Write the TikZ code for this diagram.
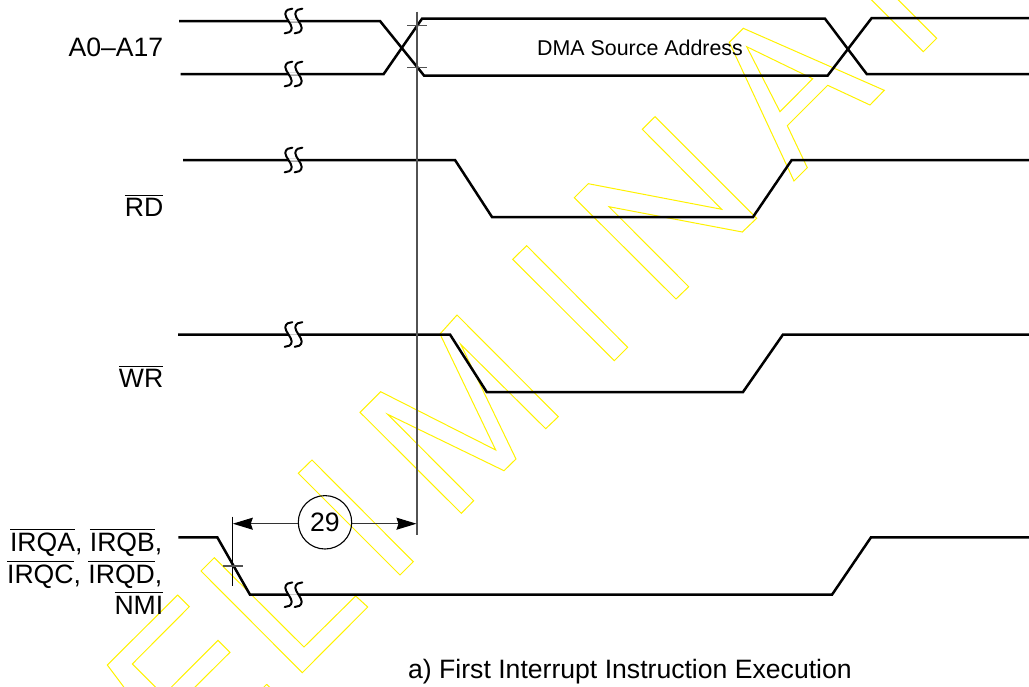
\documentclass[tikz,border=0pt]{standalone}
\usepackage{fontspec}
\setmainfont{Liberation Sans}
\usetikzlibrary{arrows.meta}
\newcommand\ovl[1]{\leavevmode\vbox{\hrule height 1.1pt \kern 2.6pt \hbox{#1}}}
\newcommand\bigtext{\fontsize{26.6}{32}\selectfont}
\tikzset{
  signal/.style={line width=2.5pt,line join=miter,black},
  wm/.style={draw=yellow,line width=1pt,line join=miter},
  guide/.style={line width=1.3pt,draw=black!68},
  fine/.style={line width=1pt,draw=black},
  dimarrow/.style={line width=1.1pt,draw=black!80,-{Stealth[length=20pt,width=12pt,inset=2pt,black]}},
  sig label/.style={anchor=base east,inner sep=0pt,font=\bigtext,align=right},
  brk/.pic={
    \draw[line width=2.6pt,draw=white] (-5,0) -- (5,0);
    \draw[line width=0.8pt,draw=black!20] (-5,0) -- (5,0);
    \foreach \c in {-5,5}{
      \draw[line width=2pt,line cap=round,black,shift={(\c,0)}]
        (3.8,-12.3) .. controls (0.8,-12.3) and (-3.2,-11) .. (-3.2,-7)
        .. controls (-3.2,-3) and (3.2,3) .. (3.2,7)
        .. controls (3.2,11) and (-0.8,12.3) .. (-3.8,12.3);
    }
  }
}
\begin{document}
\begin{tikzpicture}[x=1pt,y=-1pt]
\useasboundingbox (0,0) rectangle (1029,686);
\begin{scope}
\clip (0,0) rectangle (1029,686);
% E
\draw[wm] (107.3,665) -- (177.7,595) -- (189.3,606.7) -- (132.3,664) -- (163.5,695) -- (218,640.3) -- (230,652.3) -- (180,702) -- (200,722) -- (150,722) -- cycle;
\draw[wm] (266.7,684.3) -- (250,701) (266.7,684.3) -- (283,701);
% L
\draw[wm] (214.3,557.7) -- (201,571) -- (302.3,672.7) -- (367.7,607) -- (355.7,596) -- (304,647) -- cycle;
% I
\draw[wm] (312,460) -- (298.3,473.3) -- (400,575) -- (413.3,561.7) -- cycle;
% M
\draw[wm] (380.7,391.7) -- (495.7,450) -- (440,334) -- (457,315) -- (558.3,416.7) -- (545.7,428.7) -- (460.7,344.3) -- (516,459) -- (504,470.7) -- (387.7,414.3) -- (473.7,500.7) -- (461.3,513.3) -- (360,412.3) -- cycle;
% I
\draw[wm] (526.7,245.7) -- (512.7,259.3) -- (614.3,360.7) -- (627.7,347.3) -- cycle;
% N
\draw[wm] (655,116.7) -- (756.7,218.3) -- (742.3,232) -- (609,206.7) -- (688.7,286.7) -- (676,299) -- (574.3,197.7) -- (588.3,183.7) -- (721.7,209.3) -- (642.3,129.3) -- cycle;
% A
\draw[wm] (743.3,28.3) -- (729.3,42.3) -- (794,181) -- (807.3,167.7) -- (787.3,125.7) -- (827.7,85.3) -- (870,105) -- (884.3,90.3) -- cycle;
\draw[wm] (746.7,46.7) -- (812.7,78.7) -- (780,111.7) -- cycle;
% R (stem end)
\draw[wm] (851.7,-20) -- (923.3,51.7) -- (936.7,38.3) -- (878.3,-20);
\end{scope}
% signals
\draw[signal] (179,21) -- (380,21) -- (424,75.5) -- (827.7,75.5) -- (871.7,18) -- (1029,18);
\draw[signal] (180.7,74) -- (383.7,74) -- (422,18.7) -- (825,18.7) -- (866.7,74) -- (1029,74);
\draw[signal] (183,160) -- (455,160) -- (492,217) -- (753,217) -- (791.7,160) -- (1029,160);
\draw[signal] (178,334.5) -- (450,334.5) -- (486.7,392) -- (743,392) -- (783,334.5) -- (1029,334.5);
\draw[signal] (178.3,537.3) -- (217.3,537.3) -- (250,594.7) -- (832,594.7) -- (871,537.3) -- (1029,537.3);
% breaks
\foreach \y in {21,74,160,334.5}{ \pic at (293.5,\y) {brk}; }
\pic at (293.5,594.7) {brk};
% guides
\coordinate (gTop) at (417,11.5);
\coordinate (gBot) at (417,535);
\coordinate (hTop) at (232.3,516.7);
\coordinate (hBot) at (232.3,585.7);
\draw[guide] (gTop) -- (gBot);
\draw[fine] (hTop) -- (hBot);
\draw[guide,line width=1.1pt] (407,25.7) -- (427,25.7);
\draw[guide,line width=1.1pt] (407,67.7) -- (427,67.7);
\draw[guide,line width=1.1pt] (222.7,566) -- (243.3,566);
% dimension
\node[circle,draw,line width=1.1pt,minimum size=53.4pt,inner sep=0pt,font=\bigtext] (c29) at (325,522.3) {29};
\coordinate (aL) at (232.8,523.7);
\coordinate (aR) at (416.5,523.7);
\draw[dimarrow] (c29.west |- aL) -- (aL);
\draw[dimarrow] (c29.east |- aR) -- (aR);
% labels
\node[sig label] (lA) at (163.5,56.7) {A0–A17};
\node[sig label] (lRD) at (163.5,216.7) {\ovl{RD}};
\node[sig label] (lWR) at (163.5,387.5) {\ovl{WR}};
\node[sig label] (lI1) at (162.5,551) {\ovl{IRQA}, \ovl{IRQB},};
\node[sig label] (lI2) at (162.5,583) {\ovl{IRQC}, \ovl{IRQD},};
\node[sig label] (lI3) at (163.5,614) {\ovl{NMI}};
\node[anchor=base,inner sep=0pt,font=\fontsize{21.4}{26}\selectfont] (dma) at (640,55) {DMA Source Address};
\node[anchor=base west,inner sep=0pt,font=\bigtext] (cap) at (408,678) {a) First Interrupt Instruction Execution};
\end{tikzpicture}
\end{document}
